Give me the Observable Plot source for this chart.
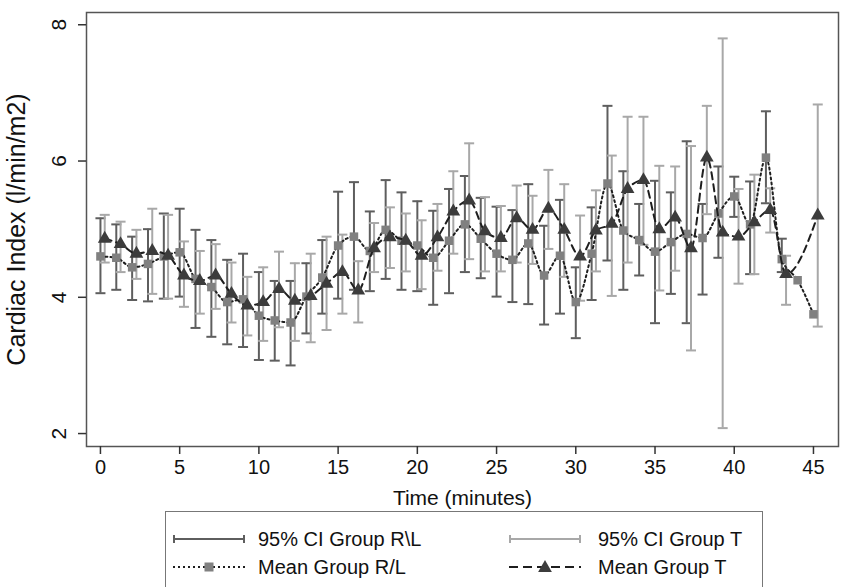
<!DOCTYPE html>
<html><head><meta charset="utf-8">
<script src="https://cdn.jsdelivr.net/npm/d3@7"></script>
<script src="https://cdn.jsdelivr.net/npm/@observablehq/plot@0.6"></script>
<style>
body{margin:0;background:#fff;font-family:"Liberation Sans",Arial,sans-serif;}
#chart{position:absolute;left:0;top:0;}
#legend{position:absolute;left:165px;top:511px;width:598px;height:82px;border:1.5px solid #777;box-sizing:border-box;background:#fff;}
.sw{position:absolute;}
.lt{position:absolute;font-size:20px;color:#111;line-height:20px;white-space:nowrap;}
</style></head><body>
<div id="chart"></div>
<div id="legend"></div>
<script>
// ---- data ----
const minutesRL = [0,1,2,3,4,5,6,7,8,9,10,11,12,13,14,15,16,17,18,19,20,21,22,23,24,25,26,27,28,29,30,31,32,33,34,35,36,37,38,39,40,41,42,43,44,45];
const meanRL  = [4.60,4.58,4.44,4.49,4.60,4.66,4.27,4.15,3.93,3.97,3.73,3.66,3.63,4.01,4.29,4.76,4.89,4.68,4.99,4.83,4.76,4.58,4.83,5.07,4.86,4.64,4.55,4.79,4.32,4.61,3.93,4.64,5.67,4.98,4.84,4.67,4.81,4.93,4.87,5.23,5.48,5.07,6.05,4.56,4.25,3.75];
const lowerRL = [4.06,4.11,3.96,3.94,3.98,4.01,3.55,3.42,3.31,3.27,3.08,3.07,3.00,3.47,3.76,3.98,4.11,4.09,4.27,4.11,4.09,3.89,4.06,4.37,4.28,4.01,3.93,3.90,3.60,3.76,3.40,3.96,4.54,4.11,4.32,3.62,4.05,3.62,4.04,4.58,5.18,4.34,5.38,4.37,null,null];
const upperRL = [5.16,5.07,4.89,5.00,5.23,5.30,4.99,4.84,4.55,4.64,4.37,4.24,4.24,4.50,4.84,5.55,5.69,5.26,5.72,5.54,5.41,5.27,5.59,5.78,5.46,5.33,5.28,5.66,5.05,5.43,4.44,5.32,6.81,5.85,5.37,5.71,5.54,6.29,5.37,5.92,5.77,5.70,6.73,4.86,null,null];

const minutesT = [0,1,2,3,4,5,6,7,8,9,10,11,12,13,14,15,16,17,18,19,20,21,22,23,24,25,26,27,28,29,30,31,32,33,34,35,36,37,38,39,40,41,42,43,45];
const meanT  = [4.86,4.78,4.64,4.68,4.61,4.32,4.24,4.32,4.05,3.88,3.93,4.12,3.95,4.02,4.20,4.37,4.10,4.72,4.88,4.83,4.61,4.88,5.26,5.42,4.97,4.87,5.16,4.99,5.30,4.99,4.60,4.98,5.08,5.59,5.72,5.00,5.17,4.72,6.05,4.95,4.89,5.10,5.28,4.34,5.20];
const lowerT = [4.51,4.37,4.27,4.05,3.98,3.86,3.76,3.83,3.63,3.44,3.36,3.56,3.36,3.34,3.52,3.76,3.63,4.37,4.43,4.38,4.12,4.39,4.64,4.56,4.38,4.38,4.51,4.49,4.71,4.30,3.95,4.38,4.02,4.51,4.77,4.10,4.39,3.22,5.22,2.08,4.20,4.34,4.95,3.89,3.57];
const upperT = [5.21,5.11,4.99,5.30,5.21,4.82,4.68,4.78,4.51,4.30,4.44,4.67,4.50,4.64,4.89,4.92,4.53,5.09,5.32,5.23,5.13,5.37,5.85,6.26,5.47,5.34,5.64,5.49,5.87,5.66,5.20,5.57,6.08,6.65,6.65,5.93,5.92,6.22,6.81,7.80,5.59,5.80,5.60,4.61,6.83];

const xTicks = [0,5,10,15,20,25,30,35,40,45];
const yTicks = [2,4,6,8];
const legendLabels = ["95% CI Group R\\L","95% CI Group T","Mean Group R/L","Mean Group T"];

// ---- styling constants ----
const offsetT = 0.27; // group T drawn slightly right of R/L
const colCIRL = "#5e5e5e", colCIT = "#a8a8a8", colSq = "#808080", colTri = "#3c3c3c", colLine = "#1e1e1e";

const rl = minutesRL.map((m,i)=>({x:m, mean:meanRL[i], lo:lowerRL[i], hi:upperRL[i]}));
const tt = minutesT.map((m,i)=>({x:m+offsetT, mean:meanT[i], lo:lowerT[i], hi:upperT[i]}));
const rlCI = rl.filter(d=>d.lo!=null && d.hi!=null);

const cap = {draw(ctx,size){const w=Math.sqrt(size)/2; ctx.moveTo(-w,0); ctx.lineTo(w,0);}};
const capR = 10/Math.sqrt(Math.PI);
const triR = 5.1;

function ciMarks(data, color){
  return [
    Plot.ruleX(data,{x:"x",y1:"lo",y2:"hi",stroke:color,strokeWidth:2}),
    Plot.dot(data,{x:"x",y:"lo",symbol:cap,r:capR,fill:"none",stroke:color,strokeWidth:2}),
    Plot.dot(data,{x:"x",y:"hi",symbol:cap,r:capR,fill:"none",stroke:color,strokeWidth:2})
  ];
}

const chart = Plot.plot({
  width:842, height:510,
  marginLeft:86, marginRight:4, marginTop:12, marginBottom:64,
  style:{fontFamily:"'Liberation Sans', Arial, sans-serif", fontSize:"20px", color:"#111", background:"#fff"},
  x:{domain:[-0.88,46.58]},
  y:{domain:[1.81,8.18]},
  marks:[
    ...ciMarks(rlCI, colCIRL),
    ...ciMarks(tt, colCIT),
    Plot.line(rl,{x:"x",y:"mean",stroke:colLine,strokeWidth:2,strokeDasharray:"2,3",curve:"monotone-x"}),
    Plot.dot(rl,{x:"x",y:"mean",symbol:"square",r:4.8,fill:colSq,stroke:"none"}),
    Plot.line(tt,{x:"x",y:"mean",stroke:colLine,strokeWidth:2,strokeDasharray:"7,5",curve:"monotone-x"}),
    Plot.dot(tt,{x:"x",y:"mean",symbol:"triangle",r:triR,fill:colTri,stroke:"none"}),
    Plot.frame({stroke:"#555",strokeWidth:1.5}),
    Plot.axisX({ticks:xTicks,tickSize:8,tickPadding:5,fontSize:20,stroke:"#333",strokeWidth:1.5,label:null}),
    Plot.axisX({ticks:[],tickSize:0,fontSize:21,label:"Time (minutes)",labelAnchor:"center",labelArrow:"none",labelOffset:58}),
    Plot.axisY({ticks:yTicks,tickFormat:d3.format("d"),tickSize:8,tickPadding:13,tickRotate:-90,fontSize:21,stroke:"#333",strokeWidth:1.5,
      label:null}),
    Plot.axisY({ticks:[],tickSize:0,fontSize:25,label:"Cardiac Index (l/min/m2)",labelAnchor:"center",labelArrow:"none",labelOffset:79})
  ]
});
document.getElementById("chart").appendChild(chart);

// ---- legend ----
const leg = document.getElementById("legend");
const legItems = [
  {label:legendLabels[0], kind:"ci", color:colCIRL, sx:7,  tx:92,  y:27},
  {label:legendLabels[1], kind:"ci", color:colCIT,  sx:343, tx:432, y:27},
  {label:legendLabels[2], kind:"sq", color:colSq,   sx:7,  tx:92,  y:55},
  {label:legendLabels[3], kind:"tri",color:colTri,  sx:343, tx:432, y:55}
];
for (const it of legItems){
  const w = 72, h = 16;
  const svg = d3.create("svg").attr("width",w).attr("height",h).attr("class","sw")
    .style("left",it.sx+"px").style("top",(it.y-h/2)+"px");
  if (it.kind==="ci"){
    svg.append("line").attr("x1",1).attr("x2",w-1).attr("y1",h/2).attr("y2",h/2).attr("stroke",it.color).attr("stroke-width",2);
    svg.append("line").attr("x1",1).attr("x2",1).attr("y1",h/2-4).attr("y2",h/2+4).attr("stroke",it.color).attr("stroke-width",2);
    svg.append("line").attr("x1",w-1).attr("x2",w-1).attr("y1",h/2-4).attr("y2",h/2+4).attr("stroke",it.color).attr("stroke-width",2);
  } else if (it.kind==="sq"){
    svg.append("line").attr("x1",0).attr("x2",w).attr("y1",h/2).attr("y2",h/2).attr("stroke",colLine).attr("stroke-width",2).attr("stroke-dasharray","2,3");
    svg.append("rect").attr("x",w/2-4.5).attr("y",h/2-4.5).attr("width",9).attr("height",9).attr("fill",it.color);
  } else {
    svg.append("line").attr("x1",0).attr("x2",w).attr("y1",h/2).attr("y2",h/2).attr("stroke",colLine).attr("stroke-width",2).attr("stroke-dasharray","9,5");
    svg.append("path").attr("d",d3.symbol(d3.symbolTriangle, triR*triR*Math.PI)()).attr("transform",`translate(${w/2},${h/2+1})`).attr("fill",it.color);
  }
  leg.appendChild(svg.node());
  const t = document.createElement("div");
  t.className="lt"; t.textContent=it.label;
  t.style.left=it.tx+"px"; t.style.top=(it.y-10)+"px";
  leg.appendChild(t);
}
</script>
</body></html>
